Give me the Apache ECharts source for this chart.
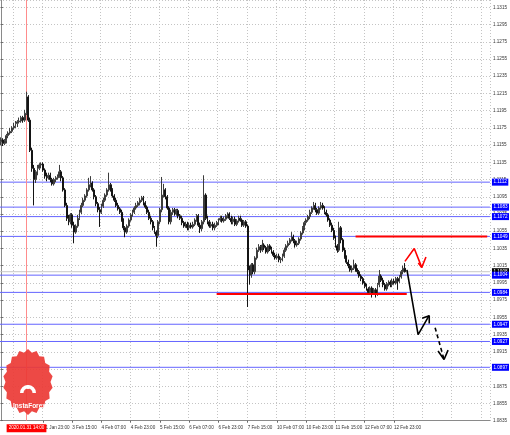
<!DOCTYPE html>
<html><head><meta charset="utf-8">
<script src="https://cdn.jsdelivr.net/npm/echarts@6/dist/echarts.min.js"></script>
<style>html,body{margin:0;padding:0;background:#fff}#c{width:510px;height:435px}</style>
</head><body><div id="c"></div>
<script>
// ---- time axis (H1 bars, weekends skipped) ----
const days = ['31 Jan','3 Feb','4 Feb','5 Feb','6 Feb','7 Feb','10 Feb','11 Feb','12 Feb','13 Feb','14 Feb','17 Feb'];
const slotCount = 268;
const firstTickIndex = 23, tickStep = 16, lastLabelIndex = 221;

// ---- OHLC (EURUSD H1) ----
const opens = [1.1159,1.1161,1.1157,1.1160,1.1166,1.1169,1.1171,1.1175,1.1177,1.1180,1.1182,1.1183,1.1187,1.1184,1.1192,1.1211,1.1184,1.1149,1.1128,1.1115,
1.1124,1.1128,1.1132,1.1133,1.1126,1.1119,1.1117,1.1120,1.1115,1.1110,1.1115,1.1117,1.1119,1.1124,1.1117,1.1103,1.1085,1.1070,1.1066,1.1074,
1.1062,1.1054,1.1061,1.1070,1.1077,1.1085,1.1091,1.1096,1.1103,1.1109,1.1111,1.1103,1.1095,1.1087,1.1080,1.1077,1.1084,1.1091,1.1097,1.1103,
1.1109,1.1103,1.1096,1.1091,1.1085,1.1081,1.1077,1.1068,1.1059,1.1054,1.1061,1.1068,1.1074,1.1077,1.1082,1.1085,1.1088,1.1091,1.1094,1.1088,
1.1083,1.1077,1.1070,1.1066,1.1059,1.1054,1.1050,1.1066,1.1080,1.1097,1.1103,1.1095,1.1082,1.1066,1.1077,1.1080,1.1075,1.1079,1.1073,1.1070,
1.1065,1.1061,1.1063,1.1059,1.1062,1.1060,1.1063,1.1068,1.1073,1.1062,1.1058,1.1066,1.1097,1.1070,1.1066,1.1061,1.1063,1.1059,1.1062,1.1065,
1.1068,1.1070,1.1067,1.1069,1.1073,1.1075,1.1070,1.1066,1.1069,1.1063,1.1067,1.1070,1.1068,1.1062,1.1066,1.1061,1.1010,1.1004,1.1016,1.1008,
1.1024,1.1033,1.1037,1.1033,1.1039,1.1036,1.1031,1.1038,1.1034,1.1031,1.1027,1.1024,1.1026,1.1022,1.1023,1.1026,1.1033,1.1038,1.1041,1.1045,
1.1048,1.1044,1.1039,1.1041,1.1046,1.1053,1.1059,1.1065,1.1068,1.1072,1.1077,1.1082,1.1085,1.1080,1.1076,1.1082,1.1085,1.1082,1.1077,1.1074,
1.1068,1.1062,1.1056,1.1047,1.1038,1.1033,1.1059,1.1045,1.1033,1.1025,1.1019,1.1015,1.1010,1.1012,1.1016,1.1010,1.1008,1.1003,1.1000,1.0995,
1.0991,1.0988,1.0984,1.0989,1.0983,1.0987,1.0982,1.0993,1.1003,1.0998,1.0993,1.0988,1.0994,1.0996,1.0993,1.0997,1.0995,1.1000,1.0997,1.1002,
1.1008,1.1012];
const closes = [1.1161,1.1157,1.1160,1.1166,1.1169,1.1171,1.1175,1.1177,1.1180,1.1182,1.1183,1.1187,1.1184,1.1192,1.1211,1.1184,1.1149,1.1128,1.1115,1.1124,
1.1128,1.1132,1.1133,1.1126,1.1119,1.1117,1.1120,1.1115,1.1110,1.1115,1.1117,1.1119,1.1124,1.1117,1.1103,1.1085,1.1070,1.1066,1.1074,1.1062,
1.1054,1.1061,1.1070,1.1077,1.1085,1.1091,1.1096,1.1103,1.1109,1.1111,1.1103,1.1095,1.1087,1.1080,1.1077,1.1084,1.1091,1.1097,1.1103,1.1109,
1.1103,1.1096,1.1091,1.1085,1.1081,1.1077,1.1068,1.1059,1.1054,1.1061,1.1068,1.1074,1.1077,1.1082,1.1085,1.1088,1.1091,1.1094,1.1088,1.1083,
1.1077,1.1070,1.1066,1.1059,1.1054,1.1050,1.1066,1.1080,1.1097,1.1103,1.1095,1.1082,1.1066,1.1077,1.1080,1.1075,1.1079,1.1073,1.1070,1.1065,
1.1061,1.1063,1.1059,1.1062,1.1060,1.1063,1.1068,1.1073,1.1062,1.1058,1.1066,1.1097,1.1070,1.1066,1.1061,1.1063,1.1059,1.1062,1.1065,1.1068,
1.1070,1.1067,1.1069,1.1073,1.1075,1.1070,1.1066,1.1069,1.1063,1.1067,1.1070,1.1068,1.1062,1.1066,1.1061,1.1010,1.1004,1.1016,1.1008,1.1024,
1.1033,1.1037,1.1033,1.1039,1.1036,1.1031,1.1038,1.1034,1.1031,1.1027,1.1024,1.1026,1.1022,1.1023,1.1026,1.1033,1.1038,1.1041,1.1045,1.1048,
1.1044,1.1039,1.1041,1.1046,1.1053,1.1059,1.1065,1.1068,1.1072,1.1077,1.1082,1.1085,1.1080,1.1076,1.1082,1.1085,1.1082,1.1077,1.1074,1.1068,
1.1062,1.1056,1.1047,1.1038,1.1033,1.1059,1.1045,1.1033,1.1025,1.1019,1.1015,1.1010,1.1012,1.1016,1.1010,1.1008,1.1003,1.1000,1.0995,1.0991,
1.0988,1.0984,1.0989,1.0983,1.0987,1.0982,1.0993,1.1003,1.0998,1.0993,1.0988,1.0994,1.0996,1.0993,1.0997,1.0995,1.1000,1.0997,1.1002,1.1008,
1.1012,1.1008];
const lows = [1.1155,1.1154,1.1155,1.1157,1.1163,1.1167,1.1169,1.1173,1.1175,1.1176,1.1180,1.1181,1.1181,1.1182,1.1190,1.1182,1.1147,1.1124,1.1085,1.1111,
1.1120,1.1126,1.1128,1.1124,1.1116,1.1113,1.1115,1.1112,1.1108,1.1108,1.1112,1.1115,1.1117,1.1113,1.1101,1.1083,1.1067,1.1062,1.1063,1.1059,
1.1041,1.1052,1.1059,1.1068,1.1075,1.1083,1.1089,1.1094,1.1101,1.1106,1.1101,1.1092,1.1084,1.1077,1.1060,1.1075,1.1082,1.1089,1.1095,1.1101,
1.1101,1.1094,1.1089,1.1083,1.1079,1.1075,1.1066,1.1056,1.1048,1.1052,1.1059,1.1066,1.1072,1.1075,1.1080,1.1083,1.1085,1.1089,1.1085,1.1081,
1.1075,1.1068,1.1063,1.1056,1.1052,1.1037,1.1047,1.1063,1.1077,1.1094,1.1092,1.1080,1.1063,1.1063,1.1074,1.1073,1.1073,1.1070,1.1068,1.1062,
1.1059,1.1059,1.1056,1.1056,1.1058,1.1058,1.1061,1.1066,1.1060,1.1053,1.1055,1.1063,1.1068,1.1063,1.1059,1.1059,1.1056,1.1056,1.1060,1.1062,
1.1066,1.1065,1.1065,1.1067,1.1070,1.1068,1.1063,1.1063,1.1061,1.1061,1.1065,1.1066,1.1060,1.1060,1.1059,1.0967,1.0993,1.1001,1.1005,1.1005,
1.1022,1.1031,1.1030,1.1031,1.1033,1.1029,1.1029,1.1032,1.1029,1.1025,1.1022,1.1022,1.1019,1.1018,1.1020,1.1024,1.1031,1.1036,1.1039,1.1043,
1.1041,1.1036,1.1037,1.1039,1.1044,1.1051,1.1056,1.1062,1.1066,1.1069,1.1075,1.1080,1.1077,1.1074,1.1074,1.1080,1.1080,1.1075,1.1072,1.1066,
1.1060,1.1054,1.1045,1.1036,1.1030,1.1031,1.1041,1.1031,1.1023,1.1017,1.1012,1.1008,1.1007,1.1010,1.1008,1.1005,1.1001,1.0997,1.0993,1.0989,
1.0986,1.0982,1.0982,1.0978,1.0981,1.0978,1.0980,1.0990,1.0996,1.0990,1.0986,1.0986,1.0991,1.0990,1.0990,1.0993,1.0993,1.0987,1.0995,1.1000,
1.1005,1.1007];
const highs = [1.1164,1.1163,1.1162,1.1168,1.1171,1.1175,1.1177,1.1181,1.1183,1.1184,1.1187,1.1189,1.1189,1.1196,1.1217,1.1213,1.1187,1.1152,1.1132,1.1126,
1.1132,1.1134,1.1135,1.1135,1.1128,1.1123,1.1123,1.1123,1.1117,1.1117,1.1119,1.1121,1.1132,1.1126,1.1119,1.1105,1.1088,1.1074,1.1076,1.1076,
1.1066,1.1063,1.1074,1.1080,1.1088,1.1094,1.1098,1.1105,1.1117,1.1119,1.1113,1.1105,1.1097,1.1089,1.1083,1.1087,1.1094,1.1099,1.1105,1.1123,
1.1111,1.1105,1.1098,1.1094,1.1088,1.1083,1.1080,1.1070,1.1061,1.1063,1.1070,1.1076,1.1080,1.1084,1.1088,1.1090,1.1094,1.1096,1.1096,1.1090,
1.1085,1.1080,1.1073,1.1068,1.1061,1.1056,1.1068,1.1082,1.1118,1.1110,1.1105,1.1097,1.1084,1.1080,1.1082,1.1082,1.1081,1.1081,1.1075,1.1073,
1.1067,1.1066,1.1066,1.1065,1.1065,1.1066,1.1070,1.1075,1.1075,1.1065,1.1068,1.1120,1.1099,1.1073,1.1068,1.1066,1.1066,1.1065,1.1067,1.1070,
1.1073,1.1073,1.1072,1.1075,1.1077,1.1077,1.1073,1.1072,1.1072,1.1069,1.1073,1.1073,1.1070,1.1068,1.1068,1.1063,1.1015,1.1018,1.1018,1.1026,
1.1036,1.1040,1.1039,1.1045,1.1041,1.1038,1.1040,1.1040,1.1037,1.1033,1.1030,1.1029,1.1029,1.1025,1.1029,1.1036,1.1040,1.1044,1.1047,1.1054,
1.1051,1.1046,1.1044,1.1048,1.1055,1.1061,1.1067,1.1070,1.1074,1.1080,1.1084,1.1089,1.1088,1.1082,1.1084,1.1089,1.1088,1.1084,1.1080,1.1076,
1.1070,1.1065,1.1059,1.1050,1.1040,1.1066,1.1061,1.1047,1.1036,1.1027,1.1022,1.1017,1.1015,1.1022,1.1018,1.1012,1.1010,1.1005,1.1002,1.0997,
1.0994,1.0990,1.0991,1.0991,1.0989,1.0989,1.0995,1.1010,1.1005,1.1001,1.0995,1.0996,1.0998,1.0998,1.1000,1.1000,1.1002,1.1002,1.1004,1.1010,
1.1015,1.1018];

// ---- price axis ----
const priceMin = 1.0835, priceMax = 1.13235, priceStep = 0.002;

// ---- drawn objects ----
const blueLevels = [1.1112, 1.1083, 1.1072, 1.1049, 1.1004, 1.0984, 1.0947, 1.0927, 1.0897];
const bidPrice = 1.1008;
const redSegments = [{from: 194, to: 266, price: 1.1049}, {from: 118, to: 222, price: 1.0982}];
const vLineIndex = 14;
const vLineLabel = '2020.01.31 14:00';
const blackPath = [[222.1,1.1010],[228.2,1.0935],[234.2,1.0957]];
const blackHead = [[230.4,1.0954],[234.3,1.0957],[234.3,1.0948]];
const dashPath = [[237.5,1.0943],[242.4,1.0906]];
const dashHead = [[239.1,1.0916],[242.4,1.0906],[244.6,1.0917]];
const redPath = [[221.0,1.1020],[226.1,1.1035],[230.2,1.1013]];
const redHead = [[228.3,1.1018],[230.2,1.1013],[232.5,1.1025]];

// ---- build ----
const categories = [];
days.forEach(d => { for (let h = 0; h < 24; h++) categories.push(d + ' ' + (h < 10 ? '0' : '') + h + ':00'); });
categories.length = slotCount;
const ohlc = opens.map((o, i) => [o, closes[i], lows[i], highs[i]]);

const F = 'Liberation Sans, Arial, sans-serif';
const gridTick = (idx) => (idx - firstTickIndex) % tickStep === 0;
const labTick = (idx) => idx >= firstTickIndex && idx <= lastLabelIndex && gridTick(idx);

const lineSeries = (data, color, type, width, z, extra) => Object.assign({type: 'line', xAxisIndex: 1, data, symbol: 'none', silent: true,
  animation: false, lineStyle: {color, width, type}, z: z}, extra || {});
const levelLabel = (txt, bg) => ({endLabel: {show: true, distance: 2, formatter: () => txt, backgroundColor: bg, color: '#fff',
  fontSize: 4.6, fontFamily: F, padding: [1, 1.5]}});

const series = [];
series.push(lineSeries([[-0.5, bidPrice], [slotCount - 0.5, bidPrice]], '#c8c8c8', 'solid', 1, 1, levelLabel(bidPrice.toFixed(4), '#000')));
blueLevels.forEach(v => series.push(lineSeries([[-0.5, v], [slotCount - 0.5, v]], '#6464ff', 'solid', 1, 1, levelLabel(v.toFixed(4), '#0000ff'))));
series.push(lineSeries([[vLineIndex, priceMax], [vLineIndex, priceMin]], '#ff8c8c', 'solid', 1, 1, {
  markPoint: {silent: true, animation: false, symbol: 'rect', symbolSize: 1, itemStyle: {color: 'rgba(0,0,0,0)'},
    data: [{coord: [vLineIndex, priceMin], label: {show: true, position: 'bottom', distance: 3, formatter: () => vLineLabel,
      backgroundColor: '#ff0000', color: '#fff', fontSize: 4.6, fontFamily: F, padding: [1.5, 2]}}]}
}));
series.push({type: 'candlestick', data: ohlc, barWidth: 1.4, animation: false,
  itemStyle: {color: '#7a7a7a', color0: '#141414', borderColor: '#3c3c3c', borderColor0: '#141414', borderWidth: 1}, z: 3});
redSegments.forEach(s => series.push(lineSeries([[s.from, s.price], [s.to, s.price]], '#ff0000', 'solid', 2, 4)));
series.push(lineSeries(blackPath, '#000', 'solid', 1.6, 5));
series.push(lineSeries(blackHead, '#000', 'solid', 1.6, 5));
series.push(lineSeries(dashPath, '#000', [4, 3], 1.6, 5));
series.push(lineSeries(dashHead, '#000', 'solid', 1.6, 5));
series.push(lineSeries(redPath, '#ff0000', 'solid', 1.6, 5));
series.push(lineSeries(redHead, '#ff0000', 'solid', 1.6, 5));

// logo shape points (decoration)
const logoPts = [];
for (let k = 0; k < 36; k++) {
  const a = -Math.PI / 2 + k * Math.PI / 18;
  const r = (k % 2 === 0) ? 1 : 0.9;
  logoPts.push([28 + 25 * r * Math.cos(a), 382 + 33 * r * Math.sin(a)]);
}

const chart = echarts.init(document.getElementById('c'), null, {renderer: 'canvas'});
chart.setOption({
  animation: false,
  backgroundColor: '#fff',
  grid: {left: 0, right: 20, top: 0, bottom: 14.3, containLabel: false},
  xAxis: [{
    type: 'category', data: categories, boundaryGap: true,
    axisLine: {show: true, lineStyle: {color: '#8a8a8a', width: 1}},
    axisTick: {show: true, interval: (i) => labTick(i), length: 2, alignWithLabel: true, lineStyle: {color: '#666'}},
    axisLabel: {interval: (i) => labTick(i), fontSize: 4.6, fontFamily: F, color: '#333', align: 'left', margin: 5,
      formatter: (v) => v},
    splitLine: {show: true, interval: (i) => gridTick(i), lineStyle: {color: '#c4c4c4', type: [1, 2], width: 1}}
  }, {
    type: 'value', min: -0.5, max: slotCount - 0.5, show: false
  }],
  yAxis: {
    type: 'value', position: 'right', min: priceMin, max: priceMax, interval: priceStep, scale: true,
    axisLine: {show: true, lineStyle: {color: '#8a8a8a', width: 1}},
    axisTick: {show: true, length: 2, lineStyle: {color: '#666'}},
    axisLabel: {fontSize: 4.6, fontFamily: F, color: '#333', margin: 3, showMaxLabel: false,
      formatter: (v) => v.toFixed(4)},
    splitLine: {show: true, lineStyle: {color: '#c4c4c4', type: [1, 2], width: 1}}
  },
  series: series,
  graphic: [
    {type: 'polygon', shape: {points: logoPts}, style: {fill: '#ec3a35', opacity: 0.92}, z: 10},
    {type: 'sector', shape: {cx: 28, cy: 393, r: 8, r0: 4.5, startAngle: Math.PI, endAngle: 2 * Math.PI}, style: {fill: '#fff'}, z: 11},
    {type: 'circle', shape: {cx: 28, cy: 387, r: 2}, style: {fill: '#fff'}, z: 11},
    {type: 'text', left: 13, top: 403, style: {text: 'InstaForex', fill: '#fff', font: 'bold 6.5px ' + F}, z: 11}
  ]
});
</script></body></html>
